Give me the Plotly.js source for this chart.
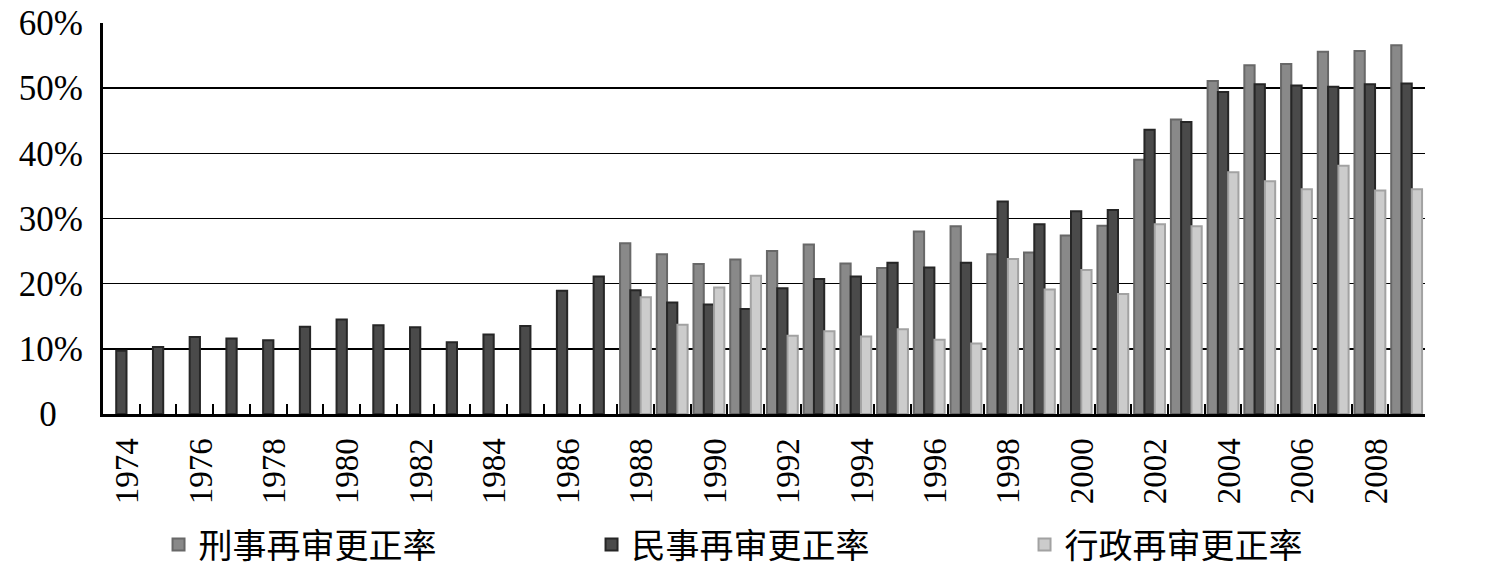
<!DOCTYPE html>
<html>
<head>
<meta charset="utf-8">
<script src="https://cdn.plot.ly/plotly-3.0.1.min.js"></script>
<style>html,body{margin:0;padding:0;background:#fff;}#chart{width:1501px;height:586px;}</style>
</head>
<body>
<div id="chart"></div>
<script>
const years = ["1974","1975","1976","1977","1978","1979","1980","1981","1982","1983","1984","1985","1986","1987","1988","1989","1990","1991","1992","1993","1994","1995","1996","1997","1998","1999","2000","2001","2002","2003","2004","2005","2006","2007","2008","2009"];
const criminalRate = [null,null,null,null,null,null,null,null,null,null,null,null,null,null,26.2,24.5,23.0,23.7,25.0,26.0,23.1,22.4,28.0,28.8,24.5,24.8,27.4,28.9,39.0,45.2,51.1,53.5,53.7,55.6,55.7,56.6];
const civilRate = [9.7,10.3,11.8,11.6,11.3,13.4,14.5,13.6,13.3,11.0,12.2,13.5,18.9,21.1,19.0,17.1,16.8,16.1,19.3,20.7,21.1,23.2,22.5,23.2,32.6,29.1,31.1,31.3,43.6,44.8,49.4,50.6,50.4,50.2,50.6,50.7];
const adminRate = [null,null,null,null,null,null,null,null,null,null,null,null,null,null,17.9,13.7,19.4,21.2,12.0,12.7,11.9,13.0,11.4,10.8,23.8,19.1,22.1,18.4,29.1,28.8,37.1,35.7,34.5,38.1,34.3,34.5];
const seriesNames = ["刑事再审更正率","民事再审更正率","行政再审更正率"];
const yTickVals = [0,10,20,30,40,50,60];
const yTickText = ["0\u00a0\u00a0\u00a0","10%","20%","30%","40%","50%","60%"];
const xTickText = years.map((y,i)=> i%2===0 ? y : "");

const traces = [
  {type:"bar", name:seriesNames[0], x:years, y:criminalRate,
   marker:{color:"#898989", line:{color:"#686868", width:2}}},
  {type:"bar", name:seriesNames[1], x:years, y:civilRate,
   marker:{color:"#4a4a4a", line:{color:"#262626", width:2}}},
  {type:"bar", name:seriesNames[2], x:years, y:adminRate,
   marker:{color:"#cccccc", line:{color:"#a2a2a2", width:2}}}
];

const layout = {
  width:1501, height:586,
  margin:{l:103, r:76, t:23, b:169, pad:0},
  paper_bgcolor:"#fff", plot_bgcolor:"#fff",
  barmode:"group", bargap:0.16, bargroupgap:0,
  showlegend:true,
  font:{family:"Liberation Serif, Times New Roman, serif", color:"#000"},
  xaxis:{
    type:"category", automargin:false,
    tickmode:"array", tickvals:years, ticktext:xTickText,
    tickangle:-90, tickson:"boundaries",
    ticks:"inside", ticklen:10, tickwidth:2, tickcolor:"#000",
    tickfont:{family:"Liberation Serif, serif", size:33, color:"#000"},
    showline:true, linecolor:"#000", linewidth:3,
    showgrid:false, zeroline:false,
    ticklabelstandoff:8, ticklabelshift:6
  },
  yaxis:{
    range:[0,60], automargin:false,
    tickmode:"array", tickvals:yTickVals, ticktext:yTickText,
    tickfont:{family:"Liberation Serif, serif", size:35, color:"#000"},
    ticks:"", showline:true, linecolor:"#000", linewidth:3,
    showgrid:true, gridcolor:"#000", gridwidth:1.6,
    zeroline:false, ticklabelstandoff:10
  },
  legend:{
    orientation:"h", x:0.042, xanchor:"left", y:-0.335, yanchor:"middle",
    font:{family:"Noto Sans CJK SC, sans-serif", size:34, color:"#000"},
    entrywidth:388, entrywidthmode:"pixels",
    itemwidth:30, tracegroupgap:0, traceorder:"normal"
  }
};

Plotly.newPlot("chart", traces, layout, {staticPlot:true, displayModeBar:false});
</script>
</body>
</html>
